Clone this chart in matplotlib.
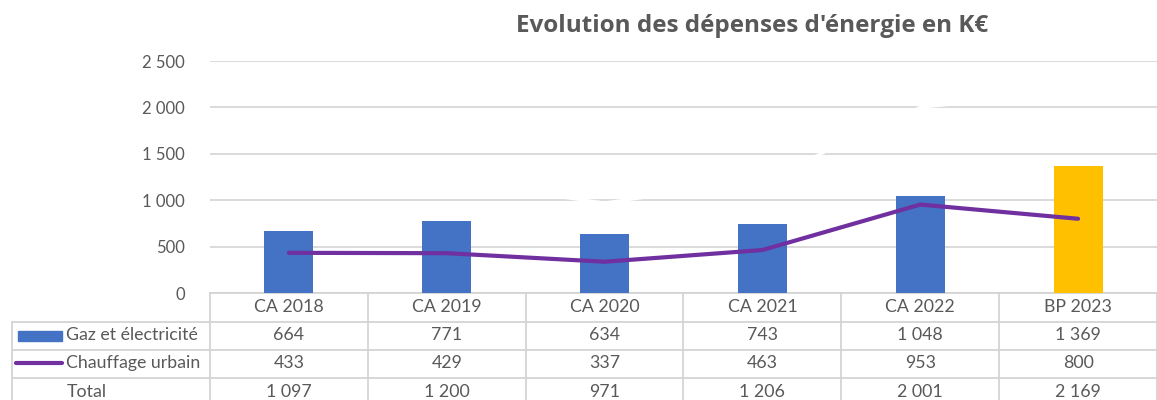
import matplotlib
matplotlib.use('Agg')
import matplotlib.pyplot as plt
import matplotlib.transforms as mtransforms
from matplotlib.patches import Rectangle

categories = ["CA 2018", "CA 2019", "CA 2020", "CA 2021", "CA 2022", "BP 2023"]
gaz_elec = [664, 771, 634, 743, 1048, 1369]
chauffage = [433, 429, 337, 463, 953, 800]
total = [1097, 1200, 971, 1206, 2001, 2169]
yticks = [0, 500, 1000, 1500, 2000, 2500]

BLUE = "#4472C4"
GOLD = "#FFC000"
PURPLE = "#7030A0"
GREY_TXT = "#595959"
GRID = "#D4D4D4"
FS = 12.8

plt.rcParams['font.family'] = ['Lato', 'DejaVu Sans']


def fmt(v):
    return f"{v:,}".replace(",", " ")


fig = plt.figure(figsize=(11.57, 4.0), dpi=100)
ax = fig.add_axes([210 / 1157, 1 - 293 / 400, 947 / 1157, 232 / 400])

x = list(range(len(categories)))
colors = [BLUE] * (len(categories) - 1) + [GOLD]
ax.bar(x, gaz_elec, width=0.31, color=colors, zorder=3)
# the hidden "Total" series is drawn in white in the original
ax.plot(x, total, color="white", linewidth=2.2, zorder=2)
ax.plot(x, chauffage, color=PURPLE, linewidth=3.0, zorder=4, solid_capstyle="round")

ax.set_xlim(-0.5, len(categories) - 0.5)
ax.set_ylim(0, 2500)
ax.set_yticks(yticks)
ax.set_yticklabels([fmt(v) for v in yticks], fontsize=12, color=GREY_TXT)
ax.tick_params(axis="y", length=0, pad=18)
ax.set_xticks([])
ax.yaxis.grid(True, color=GRID, linewidth=1.2, zorder=0)
for s in ["top", "right", "left"]:
    ax.spines[s].set_visible(False)
ax.spines["bottom"].set_color(GRID)
ax.spines["bottom"].set_linewidth(1.3)

fig.text(752 / 1157, 1 - 26 / 400, "Evolution des dépenses d'énergie en K€",
         ha="center", va="center", fontsize=17.5, fontweight="bold", color=GREY_TXT,
         family=["Open Sans", "DejaVu Sans"])

# data table under the plot
tr = mtransforms.blended_transform_factory(ax.transData, ax.transAxes)
row_y = [-0.060, -0.181, -0.302, -0.427]
borders = [-0.125, -0.2457, -0.366]
left_x = -1.753
bottom = -0.6

for i, c in enumerate(categories):
    ax.text(i, row_y[0], c, transform=tr, ha="center", va="center",
            fontsize=FS, color=GREY_TXT, clip_on=False)
    ax.text(i, row_y[1], fmt(gaz_elec[i]), transform=tr, ha="center", va="center",
            fontsize=FS, color=GREY_TXT, clip_on=False)
    ax.text(i, row_y[2], fmt(chauffage[i]), transform=tr, ha="center", va="center",
            fontsize=FS, color=GREY_TXT, clip_on=False)
    ax.text(i, row_y[3], fmt(total[i]), transform=tr, ha="center", va="center",
            fontsize=FS, color=GREY_TXT, clip_on=False)

# vertical borders
for k in range(len(categories) + 1):
    ax.plot([k - 0.5, k - 0.5], [0, bottom], transform=tr, color=GRID,
            linewidth=1.3, clip_on=False, zorder=1)
ax.plot([left_x, left_x], [borders[0], bottom], transform=tr, color=GRID,
        linewidth=1.3, clip_on=False)
# horizontal borders
for b in borders:
    ax.plot([left_x, len(categories) - 0.5], [b, b], transform=tr, color=GRID,
            linewidth=1.3, clip_on=False)

# row labels with legend keys
ax.add_patch(Rectangle((-1.715, -0.207), 0.278, 0.043, transform=tr,
                       color=BLUE, clip_on=False))
ax.plot([-1.728, -1.437], [row_y[2], row_y[2]], transform=tr, color=PURPLE,
        linewidth=3.0, solid_capstyle="round", clip_on=False)
ax.text(-1.411, row_y[1], "Gaz et électricité", transform=tr, ha="left", va="center",
        fontsize=FS, color=GREY_TXT, clip_on=False)
ax.text(-1.411, row_y[2], "Chauffage urbain", transform=tr, ha="left", va="center",
        fontsize=FS, color=GREY_TXT, clip_on=False)
ax.text(-1.405, row_y[3], "Total", transform=tr, ha="left", va="center",
        fontsize=FS, color=GREY_TXT, clip_on=False)

fig.savefig("out.png", dpi=100, facecolor="white")
